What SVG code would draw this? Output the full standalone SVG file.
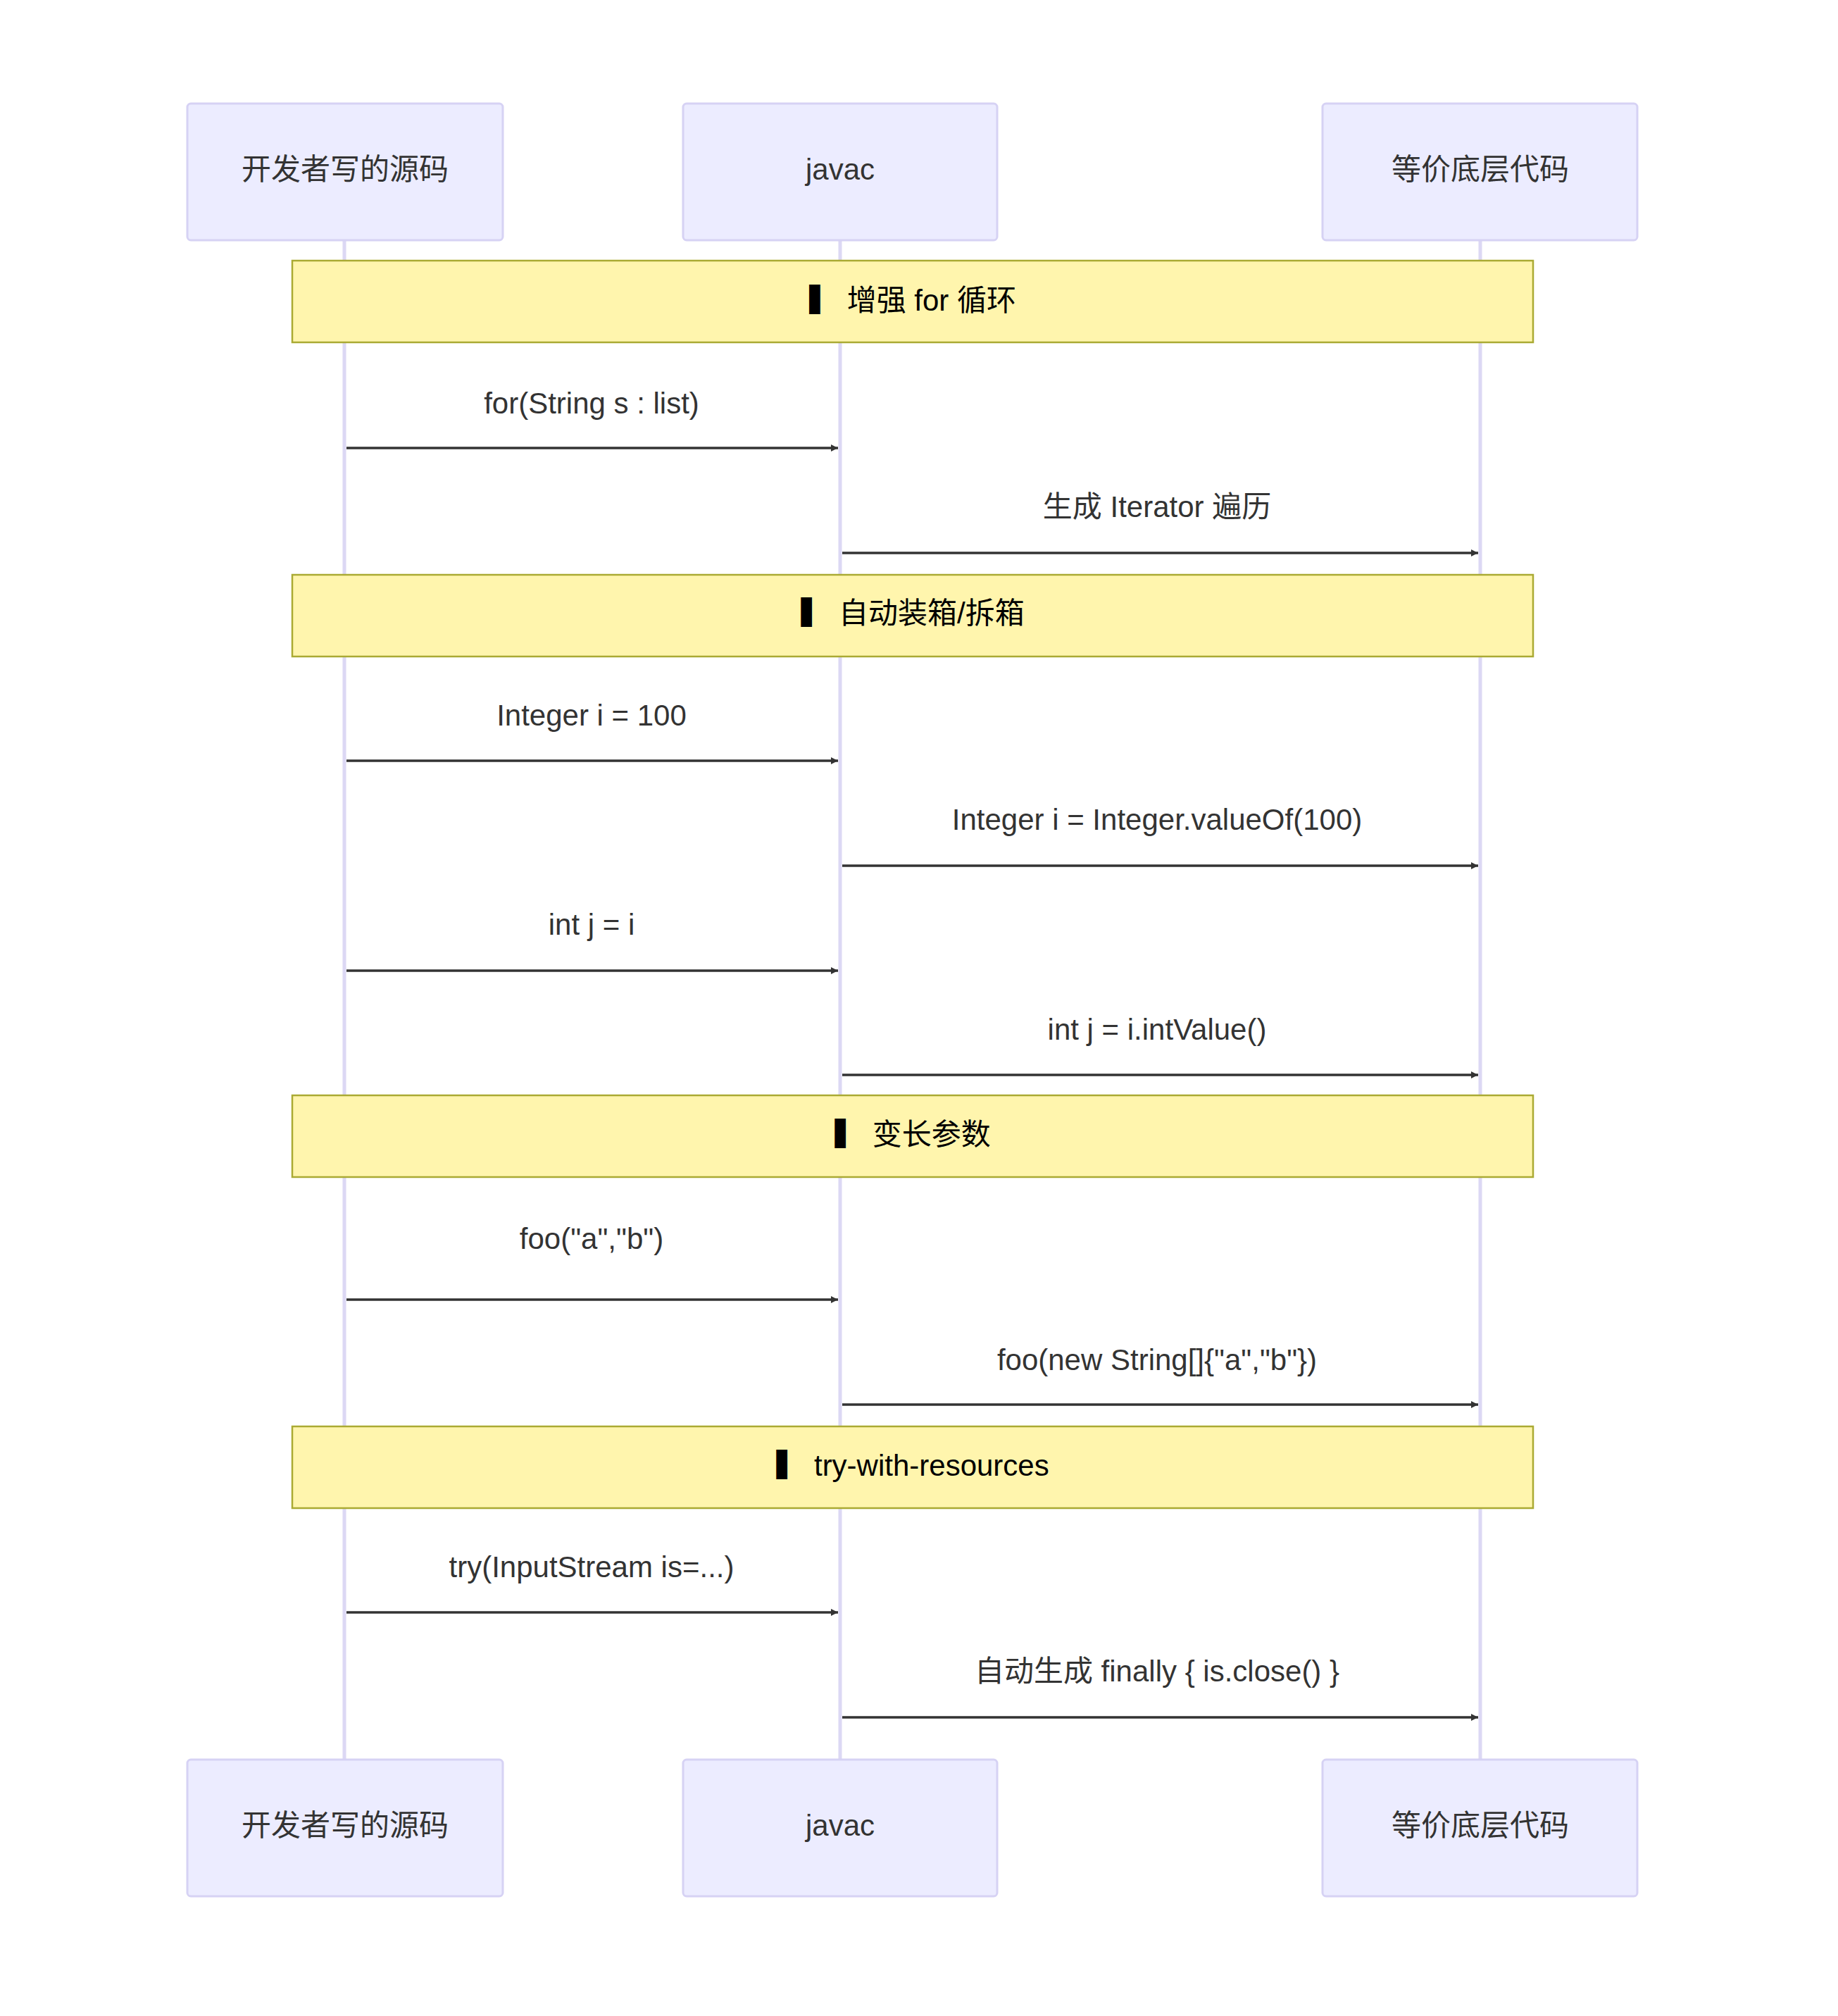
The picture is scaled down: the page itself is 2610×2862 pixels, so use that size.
<svg xmlns="http://www.w3.org/2000/svg" width="2610" height="2862" viewBox="0 0 2610 2862">
<style>
.actor{fill:#ECECFF;stroke:#d6d2f4;stroke-width:3}
.life{stroke:#dcd8f4;stroke-width:5}
.note{fill:#fff5ad;stroke:#aaaa33;stroke-width:2.5}
.msg{stroke:#333;stroke-width:3.5;fill:none;marker-end:url(#ah)}
text{font-family:"Liberation Sans","Noto Sans CJK SC",sans-serif;font-size:42px;fill:#333;text-anchor:middle;dominant-baseline:middle}
.nt{fill:#000}
</style>
<defs><marker id="ah" viewBox="0 0 12 12" refX="12" refY="6" markerWidth="10" markerHeight="10" markerUnits="userSpaceOnUse" orient="auto"><path d="M0,0L12,6L0,12z" fill="#333"/></marker>
<marker id="ah2" viewBox="0 0 12 12" refX="11" refY="6" markerWidth="30" markerHeight="30" markerUnits="userSpaceOnUse" orient="auto"><path d="M0,0L12,6L0,12z" fill="#333"/></marker></defs>
<g id="lifelines">
<line class="life" x1="489" y1="341" x2="489" y2="2498"/>
<line class="life" x1="1193" y1="341" x2="1193" y2="2498"/>
<line class="life" x1="2102" y1="341" x2="2102" y2="2498"/>
</g>
<g id="a1"><rect class="actor" x="266" y="147" width="448" height="194" rx="5"/><text x="490" y="244">开发者写的源码</text></g>
<g id="a2"><rect class="actor" x="970" y="147" width="446" height="194" rx="5"/><text x="1193" y="244">javac</text></g>
<g id="a3"><rect class="actor" x="1878" y="147" width="447" height="194" rx="5"/><text x="2102" y="244">等价底层代码</text></g>
<g id="b1"><rect class="actor" x="266" y="2498" width="448" height="194" rx="5"/><text x="490" y="2595">开发者写的源码</text></g>
<g id="b2"><rect class="actor" x="970" y="2498" width="446" height="194" rx="5"/><text x="1193" y="2595">javac</text></g>
<g id="b3"><rect class="actor" x="1878" y="2498" width="447" height="194" rx="5"/><text x="2102" y="2595">等价底层代码</text></g>
<g id="n1"><rect class="note" x="415" y="370" width="1762" height="116"/><text class="nt" x="1296" y="430">▍ 增强 for 循环</text></g>
<g id="n2"><rect class="note" x="415" y="816" width="1762" height="116"/><text class="nt" x="1296" y="874">▍ 自动装箱/拆箱</text></g>
<g id="n3"><rect class="note" x="415" y="1555" width="1762" height="116"/><text class="nt" x="1296" y="1614">▍ 变长参数</text></g>
<g id="n4"><rect class="note" x="415" y="2025" width="1762" height="116"/><text class="nt" x="1296" y="2084">▍ try-with-resources</text></g>
<g id="connectors">
<line class="msg" x1="492" y1="636" x2="1190" y2="636"/><text x="840" y="576">for(String s : list)</text>
<line class="msg" x1="1196" y1="785" x2="2099" y2="785"/><text x="1643" y="723">生成 Iterator 遍历</text>
<line class="msg" x1="492" y1="1080" x2="1190" y2="1080"/><text x="840" y="1019">Integer i = 100</text>
<line class="msg" x1="1196" y1="1229" x2="2099" y2="1229"/><text x="1643" y="1167">Integer i = Integer.valueOf(100)</text>
<line class="msg" x1="492" y1="1378" x2="1190" y2="1378"/><text x="840" y="1316">int j = i</text>
<line class="msg" x1="1196" y1="1526" x2="2099" y2="1526"/><text x="1643" y="1465">int j = i.intValue()</text>
<line class="msg" x1="492" y1="1845" x2="1190" y2="1845"/><text x="840" y="1762">foo("a","b")</text>
<line class="msg" x1="1196" y1="1994" x2="2099" y2="1994"/><text x="1643" y="1934">foo(new String[]{"a","b"})</text>
<line class="msg" x1="492" y1="2289" x2="1190" y2="2289"/><text x="840" y="2228">try(InputStream is=...)</text>
<line class="msg" x1="1196" y1="2438" x2="2099" y2="2438"/><text x="1643" y="2376">自动生成 finally { is.close() }</text>
</g>
</svg>
